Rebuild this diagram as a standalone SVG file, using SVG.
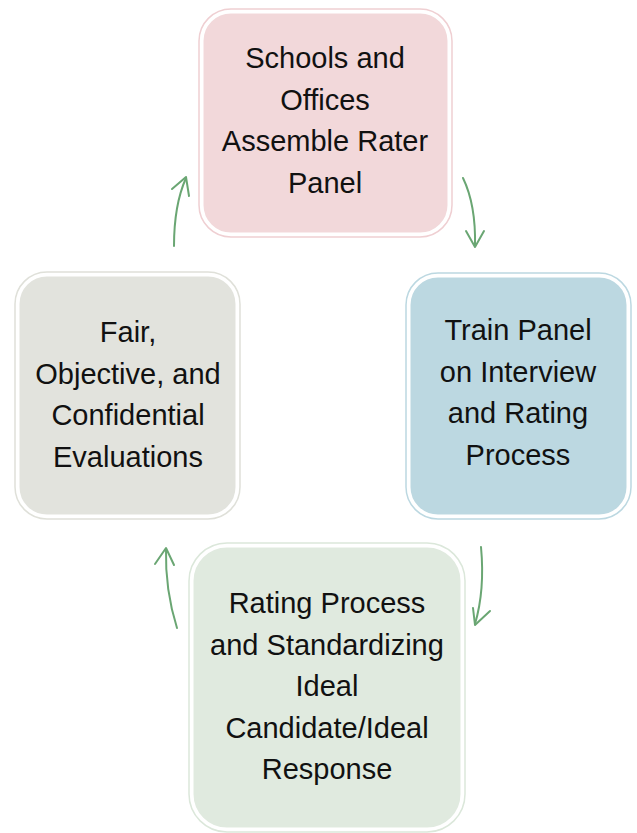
<svg xmlns="http://www.w3.org/2000/svg" width="637" height="833" viewBox="0 0 637 833">
<defs>
<style>
.t{font-family:"Liberation Sans","DejaVu Sans",sans-serif;font-size:29px;fill:#111;text-anchor:middle}
.arr{fill:none;stroke:#6aa673;stroke-width:2;stroke-linecap:round;stroke-linejoin:round}
.in{stroke:#ffffff;stroke-width:3}
</style>
</defs>
<rect width="637" height="833" fill="#ffffff"/>
<g id="node-top">
<rect x="199" y="9" width="253" height="228" rx="32" fill="#ffffff" stroke="#efcfd2" stroke-width="1.5"/>
<rect x="202" y="12" width="247" height="222" rx="29" fill="#f2d8da" class="in"/>
<text class="t" x="325" y="68">Schools and</text>
<text class="t" x="325" y="109.5">Offices</text>
<text class="t" x="325" y="151">Assemble Rater</text>
<text class="t" x="325" y="192.5">Panel</text>
</g>
<g id="node-right">
<rect x="406" y="273" width="225" height="246" rx="32" fill="#ffffff" stroke="#bcd8e1" stroke-width="1.5"/>
<rect x="409" y="276" width="219" height="240" rx="29" fill="#bcd8e1" class="in"/>
<text class="t" x="518" y="340">Train Panel</text>
<text class="t" x="518" y="381.5">on Interview</text>
<text class="t" x="518" y="423">and Rating</text>
<text class="t" x="518" y="464.5">Process</text>
</g>
<g id="node-left">
<rect x="15" y="272" width="225" height="247" rx="32" fill="#ffffff" stroke="#dfe0d9" stroke-width="1.5"/>
<rect x="18" y="275" width="219" height="241" rx="29" fill="#e2e3dd" class="in"/>
<text class="t" x="128" y="342">Fair,</text>
<text class="t" x="128" y="383.5">Objective, and</text>
<text class="t" x="128" y="425">Confidential</text>
<text class="t" x="128" y="466.5">Evaluations</text>
</g>
<g id="node-bottom">
<rect x="189" y="543" width="276" height="289" rx="38" fill="#ffffff" stroke="#dbe7da" stroke-width="1.5"/>
<rect x="192" y="546" width="270" height="283" rx="35" fill="#e0eadf" class="in"/>
<text class="t" x="327" y="613">Rating Process</text>
<text class="t" x="327" y="654.5">and Standardizing</text>
<text class="t" x="327" y="696">Ideal</text>
<text class="t" x="327" y="737.5">Candidate/Ideal</text>
<text class="t" x="327" y="779">Response</text>
</g>
<g id="connectors">
<path class="arr" d="M174,246 Q174,205 186,178"/>
<path class="arr" d="M172,189 L186,177 L189,196"/>
<path class="arr" d="M463,178 Q476,205 475,246"/>
<path class="arr" d="M466,231 L475,247 L484,231"/>
<path class="arr" d="M481,547 Q485,590 475,624"/>
<path class="arr" d="M473,608 L475,625 L490,611"/>
<path class="arr" d="M177,628 Q165,590 166,549"/>
<path class="arr" d="M155,564 L166,548 L174,565"/>
</g>
</svg>
